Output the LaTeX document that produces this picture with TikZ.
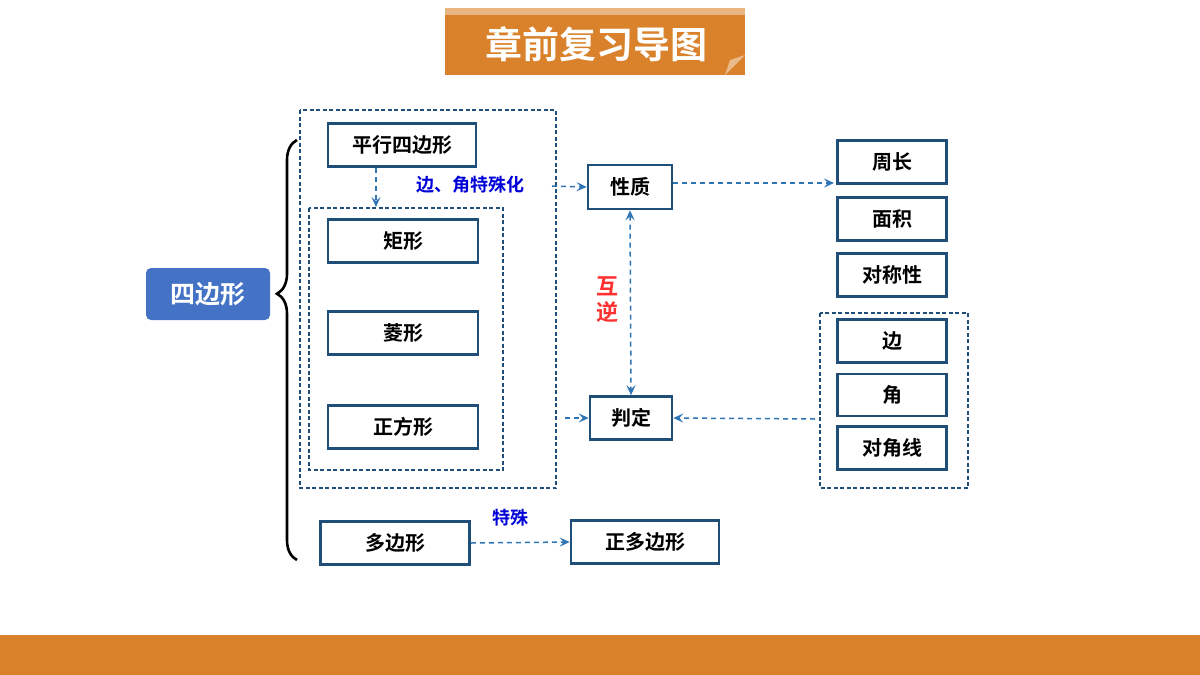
\documentclass[tikz,border=0pt]{standalone}
\usepackage{fontspec}
\setmainfont{Noto Sans CJK SC}[BoldFont={Noto Sans CJK SC Bold}]
\usetikzlibrary{decorations.pathreplacing,arrows.meta,calc}
\definecolor{org}{HTML}{D9822B}
\definecolor{dblue}{HTML}{1F4E79}
\definecolor{mblue}{HTML}{4472C4}
\definecolor{lblue}{HTML}{2E75B6}
\begin{document}
\begin{tikzpicture}[x=1pt,y=-1pt,
 box/.style={draw=dblue,line width=2.6pt,inner sep=0pt,font=\bfseries\fontsize{20}{20}\selectfont},
 dbox/.style={draw=dblue,dash pattern=on 4pt off 2.5pt,line width=1.5pt},
 arr/.style={draw=lblue,dash pattern=on 5pt off 4pt,line width=1.5pt,-{Stealth[length=10pt,width=9pt,inset=4pt]}},
 lab/.style={text=blue!85!black,font=\bfseries\fontsize{18}{18}\selectfont}]
\useasboundingbox (0,0) rectangle (1200,675);
\fill[white] (0,0) rectangle (1200,675);
% banner
\fill[org] (445,8) rectangle (745,75);
\fill[org!60!white] (445,8) rectangle (745,15);
\fill[org!55!white] (725,75) -- (745,55) -- (730,60) -- cycle;
\node[text=white,font=\bfseries\fontsize{37}{37}\selectfont] (title) at (596,44) {章前复习导图};
\fill[org] (0,635) rectangle (1200,675);
% main
\node[fill=mblue,rounded corners=5pt,text=white,font=\bfseries\fontsize{25}{25}\selectfont,minimum width=124pt,minimum height=52pt] (q) at (208,294) {四边形};
\draw[line width=2.6pt,decorate,decoration={brace,amplitude=20pt,mirror,aspect=0.366}] (297,140) -- (297,560);
\draw[dbox] (300,110) rectangle (556,488);
\draw[dbox] (309,208) rectangle (503,470);
\node[box,minimum width=148pt,minimum height=43pt] (p) at (402,145) {平行四边形};
\node[box,minimum width=150pt,minimum height=43pt] (r) at (403,241) {矩形};
\node[box,minimum width=150pt,minimum height=43pt] (l) at (403,333) {菱形};
\node[box,minimum width=150pt,minimum height=43pt] (s) at (403,427) {正方形};
\coordinate (a1) at (376,168); \coordinate (a2) at (376,207);
\draw[arr] (a1) -- (a2);
\node[lab] (tsh) at (470,185) {边、角特殊化};
\node[box,minimum width=84pt,minimum height=44pt] (xz) at (630,187) {性质};
\node[box,minimum width=82pt,minimum height=43pt] (pd) at (631,418) {判定};
\coordinate (b1) at (552,186); \draw[arr] (b1) -- (xz.west);
\coordinate (b2) at (565,418); \draw[arr] (b2) -- (pd.west);
\draw[arr,{Stealth[length=10pt,width=9pt,inset=4pt]}-{Stealth[length=10pt,width=9pt,inset=4pt]}] (xz.south) -- (pd.north);
\node[text=red!75!pink,font=\bfseries\fontsize{22}{26}\selectfont,align=center] (hn) at (607,300) {互\\逆};
\node[box,minimum width=109pt,minimum height=43pt] (zc) at (892,162) {周长};
\node[box,minimum width=109pt,minimum height=43pt] (mj) at (892,219) {面积};
\node[box,minimum width=109pt,minimum height=43pt] (dc) at (892,275) {对称性};
\draw[dbox] (820,313) rectangle (968,488);
\node[box,minimum width=109pt,minimum height=43pt] (b) at (892,341) {边};
\node[box,minimum width=109pt,minimum height=42pt] (j) at (892,395) {角};
\node[box,minimum width=109pt,minimum height=43pt] (djx) at (892,448) {对角线};
\coordinate (x1) at (673,183); \coordinate (x2) at (834,183);
\draw[arr] (x1) -- (x2);
\coordinate (c1) at (815,419); \draw[arr] (c1) -- (pd.east);
\node[box,minimum width=149pt,minimum height=43pt] (dbx) at (395,543) {多边形};
\node[box,minimum width=148pt,minimum height=43pt] (zdbx) at (645,542) {正多边形};
\draw[arr] (dbx.east) -- (zdbx.west);
\node[lab] (ts) at (510,518) {特殊};
\end{tikzpicture}
\end{document}
